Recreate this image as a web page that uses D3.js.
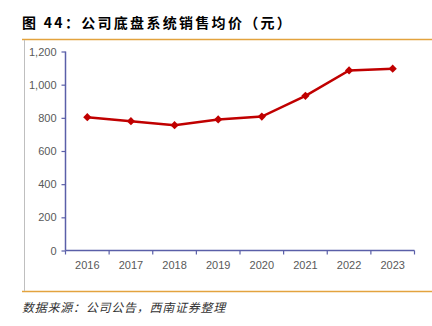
<!DOCTYPE html>
<html><head><meta charset="utf-8">
<script src="https://cdn.jsdelivr.net/npm/d3@7/dist/d3.min.js"></script>
<style>body{margin:0;background:#fff}svg{display:block}</style>
</head><body>
<svg id="c" width="432" height="326"></svg>
<script>
const title = "图 44：公司底盘系统销售均价（元）";
const source = "数据来源：公司公告，西南证券整理";
const years = ["2016","2017","2018","2019","2020","2021","2022","2023"];
const prices = [804, 780, 756, 790, 808, 933, 1086, 1096];
const yTicks = [0, 200, 400, 600, 800, 1000, 1200];

const svg = d3.select("#c");
const cjk = "'Noto Sans CJK SC', sans-serif";

svg.append("text").attr("x", 22).attr("y", 28)
  .attr("font-family", cjk).attr("font-weight", "bold").attr("font-size", 14)
  .attr("letter-spacing", 2.3).attr("fill", "#000").text(title);

svg.append("line").attr("x1", 22).attr("x2", 432).attr("y1", 39.5).attr("y2", 39.5)
  .attr("stroke", "#E3A33E").attr("stroke-width", 1.5);
svg.append("line").attr("x1", 22).attr("x2", 432).attr("y1", 291.5).attr("y2", 291.5)
  .attr("stroke", "#E3A33E").attr("stroke-width", 1.5);
svg.append("line").attr("x1", 24.5).attr("x2", 24.5).attr("y1", 40).attr("y2", 291)
  .attr("stroke", "#BFBFBF").attr("stroke-width", 1);

svg.append("text").attr("x", 22).attr("y", 312)
  .attr("font-family", cjk).attr("font-style", "italic").attr("font-size", 12)
  .attr("letter-spacing", 0.75).attr("fill", "#333").text(source);

const x = d3.scaleBand().domain(years).range([65.5, 414.5]);
const y = d3.scaleLinear().domain([0, 1200]).range([250.5, 51.5]);

const axColor = "#5A5FA8";
const gx = svg.append("g").attr("transform", "translate(0,250.5)")
  .call(d3.axisBottom(x).tickSize(4).tickFormat(d => d));
gx.selectAll(".tick line").remove();
gx.select(".domain").attr("stroke", axColor).attr("stroke-width", 1.5).attr("d", "M65.5,0H414.5");
const bounds = years.map(d => x(d)).concat([x.range()[1]]);
gx.selectAll("line.bt").data(bounds).enter().append("line").attr("class","bt")
  .attr("x1", d => d).attr("x2", d => d).attr("y1", 0).attr("y2", 4)
  .attr("stroke", axColor).attr("stroke-width", 1.2);
gx.selectAll(".tick text").attr("font-family", "'Liberation Sans', Arial, sans-serif")
  .attr("font-size", 11).attr("fill", "#595959").attr("dy", "1.05em");

const gy = svg.append("g").attr("transform", "translate(65.5,0)")
  .call(d3.axisLeft(y).tickValues(yTicks).tickSize(4).tickFormat(d3.format(",")));
gy.select(".domain").attr("stroke", axColor).attr("stroke-width", 1.5).attr("d", "M0,250.5V51.5");
gy.selectAll(".tick line").attr("stroke", axColor).attr("stroke-width", 1.2);
gy.selectAll(".tick text").attr("font-family", "'Liberation Sans', Arial, sans-serif")
  .attr("font-size", 11).attr("fill", "#595959").attr("x", -9);

const cx = d => x(d) + x.bandwidth() / 2;
svg.append("path").datum(prices.map((v, i) => [years[i], v]))
  .attr("fill", "none").attr("stroke", "#C00000").attr("stroke-width", 2.5)
  .attr("d", d3.line().x(d => cx(d[0])).y(d => y(d[1])));
svg.selectAll("path.m").data(prices).enter().append("path").attr("class", "m")
  .attr("d", d3.symbol().type(d3.symbolSquare).size(34))
  .attr("transform", (d, i) => `translate(${cx(years[i])},${y(d)}) rotate(45)`)
  .attr("fill", "#C00000");
</script>
</body></html>
